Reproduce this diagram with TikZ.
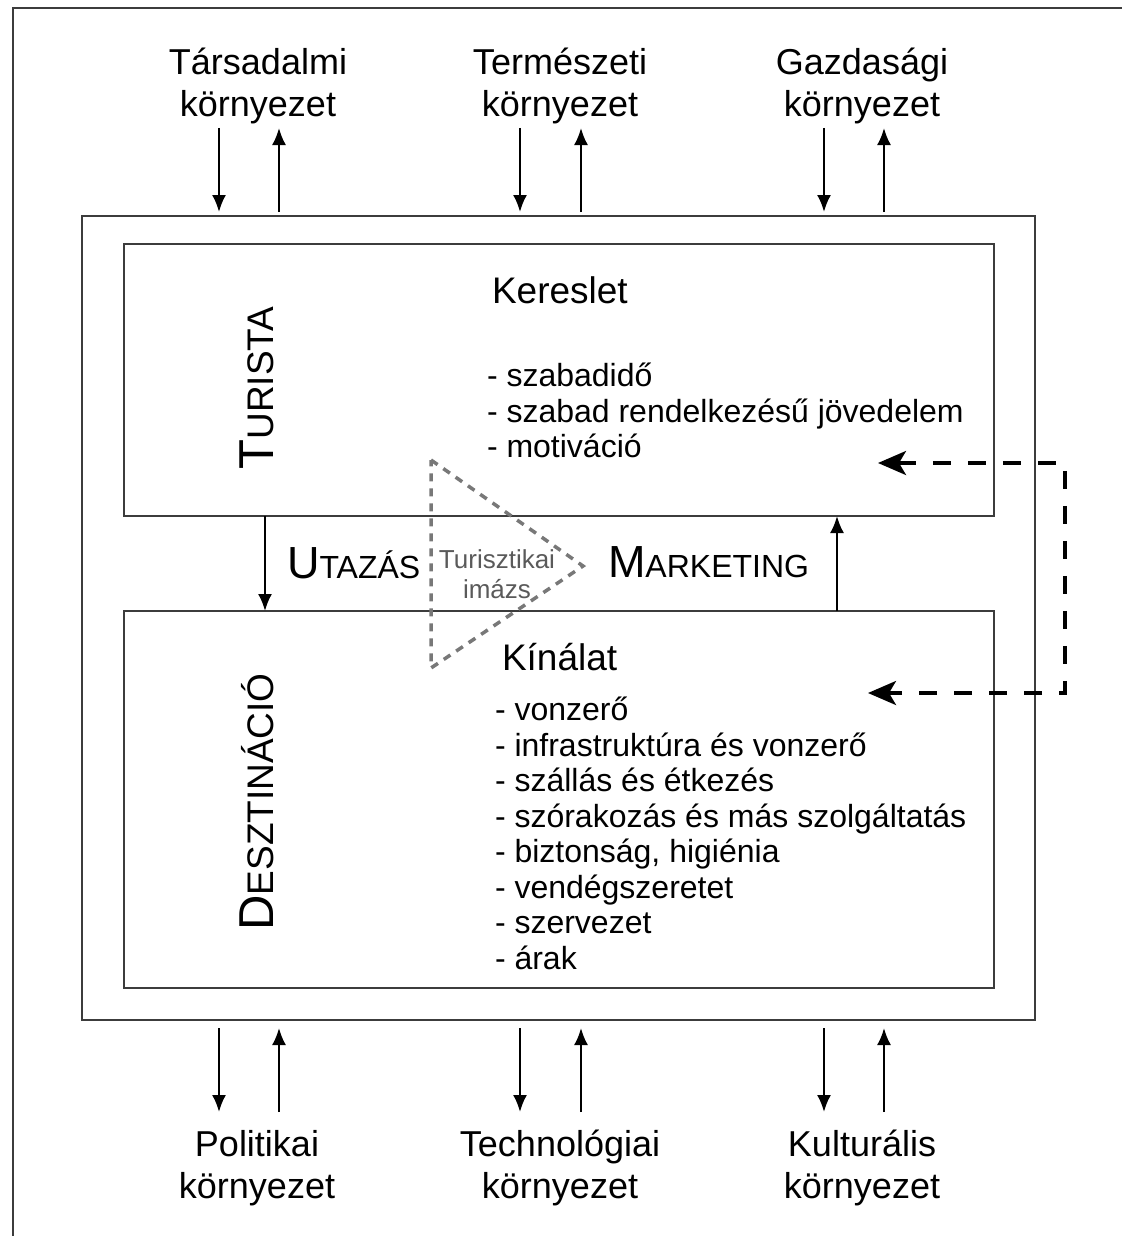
\documentclass[tikz,border=0pt]{standalone}
\usepackage{fontspec}
\setmainfont{Liberation Sans}
\usetikzlibrary{arrows.meta}
\definecolor{framegray}{RGB}{60,60,60}
\definecolor{imagegray}{RGB}{120,120,120}
\definecolor{imagetext}{RGB}{90,90,90}
\newcommand{\fsz}[1]{\fontsize{#1}{#1}\selectfont}
\begin{document}
\begin{tikzpicture}
  [x=1pt,y=-1pt,
  every node/.style={inner sep=0pt,outer sep=0pt},
  box/.style={draw=framegray,line width=1.5pt,anchor=north west},
  arr/.style={-{Latex[length=17pt,width=14pt]},line width=2.2pt},
  visszacsat/.style={{Stealth[length=28pt,width=24pt,inset=7pt]}-{Stealth[length=28pt,width=24pt,inset=7pt]},
    line width=3.5pt,dash pattern=on 18pt off 17pt},
  kep/.style={draw=imagegray,line width=3.5pt,dash pattern=on 8pt off 7pt}]
  \tikzstyle{kornyezet}=[align=center,anchor=north,font=\fontsize{36}{42}\selectfont]
  \tikzstyle{lista}=[align=left,anchor=north west,font=\fontsize{32}{35.5}\selectfont]
  \useasboundingbox (0,0) rectangle (1122,1236);
  \draw[framegray,line width=2pt] (13,1236) -- (13,8) -- (1122,8);

  \node[box,minimum width=953pt,minimum height=804pt] (outer) at (82,216) {};
  \node[box,minimum width=870pt,minimum height=272pt] (turista) at (124,244) {};
  \node[box,minimum width=870pt,minimum height=377pt] (desztinacio) at (124,611) {};

  \node[kornyezet] (tars) at (258,48) {Társadalmi\\környezet};
  \node[kornyezet] (term) at (560,48) {Természeti\\környezet};
  \node[kornyezet] (gazd) at (862,48) {Gazdasági\\környezet};
  \node[kornyezet] (poli) at (257,1130) {Politikai\\környezet};
  \node[kornyezet] (tech) at (560,1130) {Technológiai\\környezet};
  \node[kornyezet] (kult) at (862,1130) {Kulturális\\környezet};

  \coordinate (f1) at (219,128);
  \coordinate (f2) at (279,128);
  \coordinate (f3) at (520,128);
  \coordinate (f4) at (581,128);
  \coordinate (f5) at (824,128);
  \coordinate (f6) at (884,128);
  \coordinate (a1) at (219,1112);
  \coordinate (a2) at (279,1112);
  \coordinate (a3) at (520,1112);
  \coordinate (a4) at (581,1112);
  \coordinate (a5) at (824,1112);
  \coordinate (a6) at (884,1112);

  \draw[arr,shorten >=4pt] (f1) -- (f1 |- outer.north);
  \draw[arr,shorten <=4pt] (f2 |- outer.north) -- (f2);
  \draw[arr,shorten >=4pt] (f3) -- (f3 |- outer.north);
  \draw[arr,shorten <=4pt] (f4 |- outer.north) -- (f4);
  \draw[arr,shorten >=4pt] (f5) -- (f5 |- outer.north);
  \draw[arr,shorten <=4pt] (f6 |- outer.north) -- (f6);
  \draw[arr,shorten <=8pt] (a1 |- outer.south) -- (a1);
  \draw[arr,shorten >=8pt] (a2) -- (a2 |- outer.south);
  \draw[arr,shorten <=8pt] (a3 |- outer.south) -- (a3);
  \draw[arr,shorten >=8pt] (a4) -- (a4 |- outer.south);
  \draw[arr,shorten <=8pt] (a5 |- outer.south) -- (a5);
  \draw[arr,shorten >=8pt] (a6) -- (a6 |- outer.south);

  \node[rotate=90,anchor=base] (turistacim) at (273,388)
    {{\fsz{49}T}{\fsz{37}URISTA}};
  \node[rotate=90,anchor=base] (desztcim) at (273,802)
    {{\fsz{49}D}{\fsz{37}ESZTINÁCIÓ}};

  \node[anchor=base west,font=\fsz{37}] (kereslet) at (492,303) {Kereslet};
  \node[lista] (kerlista) at (487,363)
    {- szabadidő\\- szabad rendelkezésű jövedelem\\- motiváció};
  \node[anchor=base west,font=\fsz{37}] (kinalat) at (502,670) {Kínálat};
  \node[lista] (kinlista) at (495,697)
    {- vonzerő\\- infrastruktúra és vonzerő\\- szállás és étkezés\\- szórakozás és más szolgáltatás\\- biztonság, higiénia\\- vendégszeretet\\- szervezet\\- árak};

  \node[anchor=base west] (utazas) at (287,578) {{\fsz{45}U}{\fsz{32}TAZÁS}};
  \node[anchor=base west] (marketing) at (608,577) {{\fsz{45}M}{\fsz{32}ARKETING}};

  \coordinate (u) at (265,0);
  \coordinate (m) at (837,0);
  \draw[arr] (turista.south -| u) -- (desztinacio.north -| u);
  \draw[arr] (desztinacio.north -| m) -- (turista.south -| m);

  \coordinate (k1) at (431,460);
  \coordinate (k2) at (583,566);
  \coordinate (k3) at (431,668);
  \draw[kep] (k1) -- (k2) -- (k3) -- cycle;
  \node[align=center,text=imagetext,font=\fontsize{26}{30}\selectfont] (imazs) at (497,574)
    {Turisztikai\\imázs};

  \coordinate (v1) at (878,463);
  \coordinate (v2) at (1065,463);
  \coordinate (v3) at (1065,693);
  \coordinate (v4) at (868,693);
  \draw[visszacsat] (v1) -- (v2) -- (v3) -- (v4);
\end{tikzpicture}
\end{document}
